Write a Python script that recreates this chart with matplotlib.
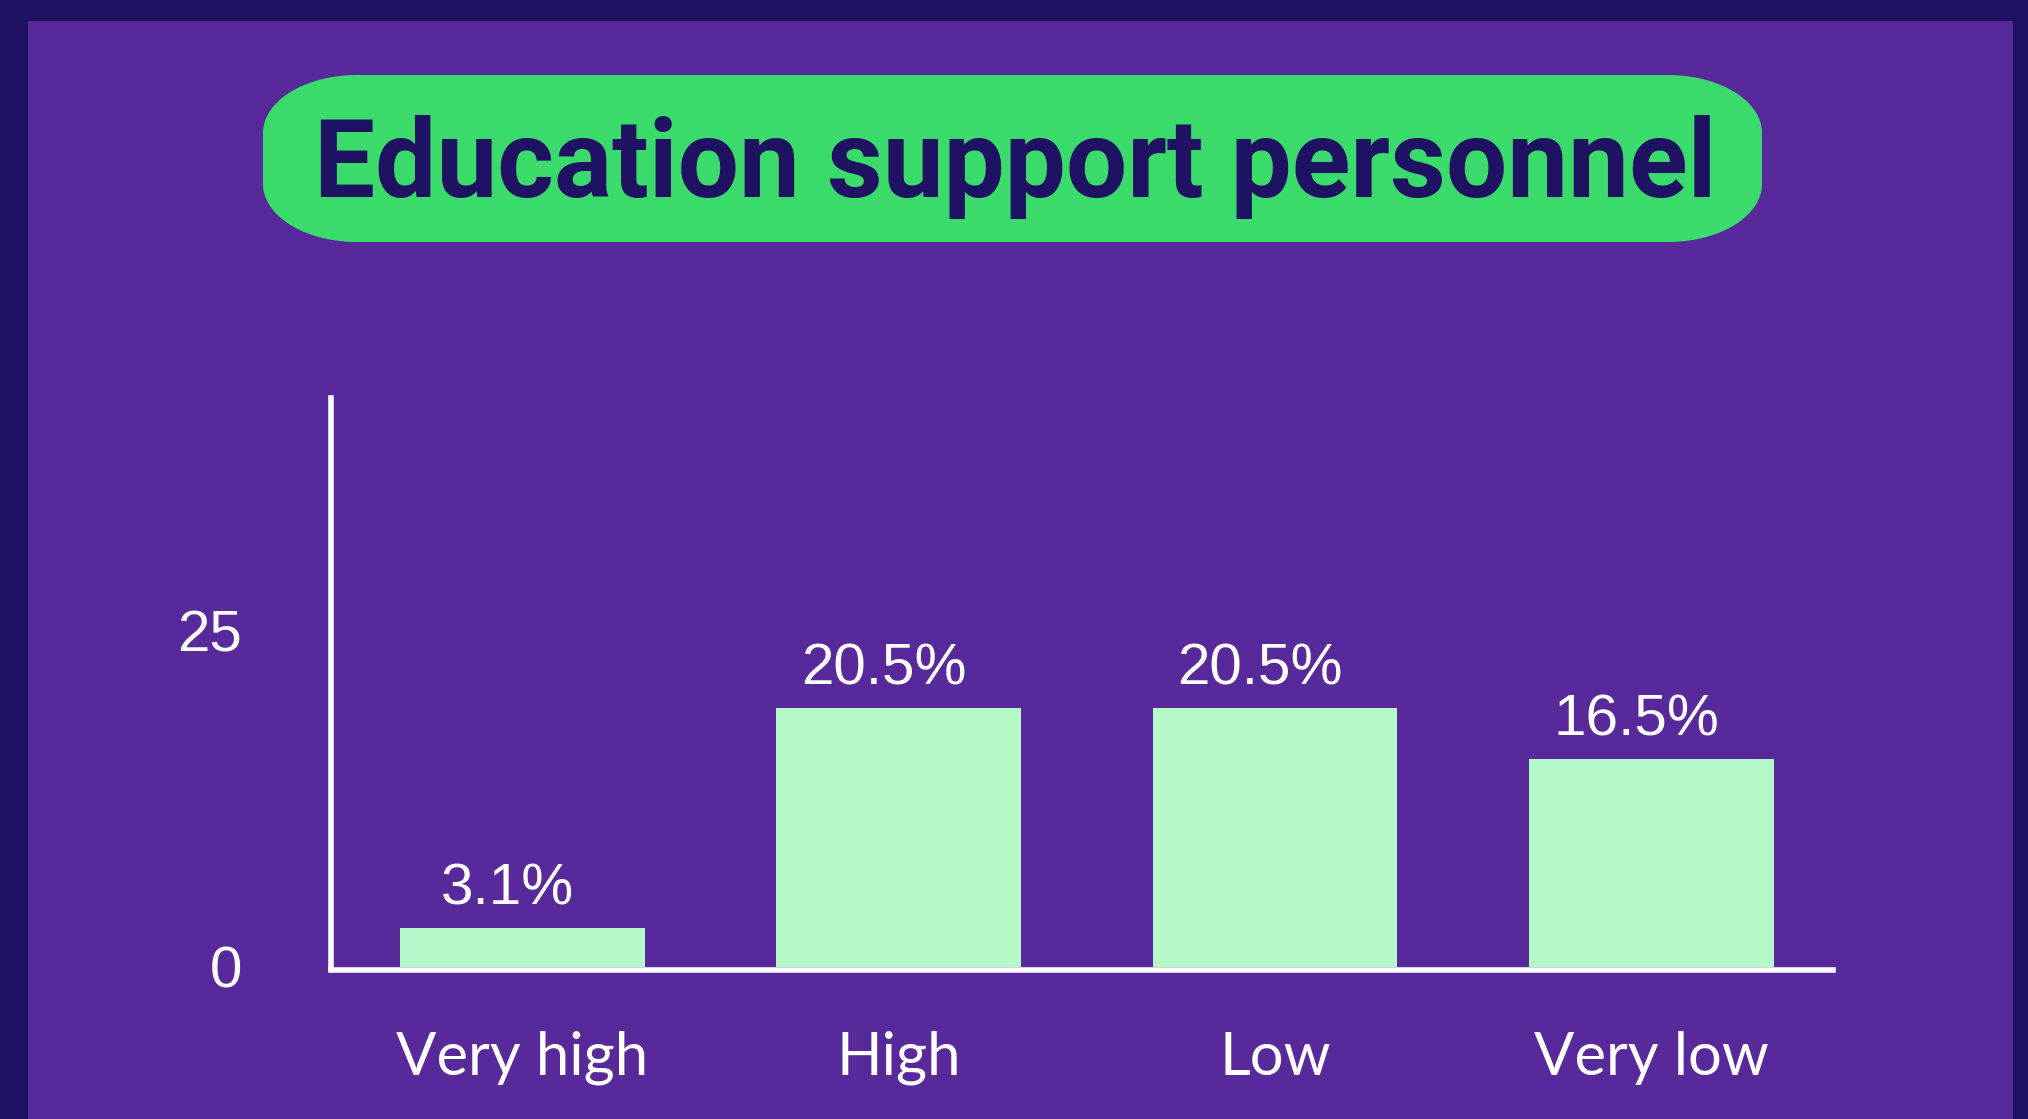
import numpy as np
import matplotlib
matplotlib.use("Agg")
import matplotlib.pyplot as plt
from matplotlib.patches import Rectangle, Polygon
from matplotlib import font_manager as fm
from matplotlib.transforms import ScaledTranslation

# ---- data ----
categories = ["Very high", "High", "Low", "Very low"]
values = [3.1, 20.5, 20.5, 16.5]
value_labels = ["3.1%", "20.5%", "20.5%", "16.5%"]
yticks = [0, 25]
ytick_labels = ["0", "25"]
title = "Education support personnel"

# ---- style ----
BORDER = "#1f1263"
PURPLE = "#57299b"
GREEN = "#3bdb6b"
BAR = "#b5f9c9"
NAVY = "#1f1263"
WHITE = "#ffffff"

W, H = 2028, 1119
DPI = 100
fig = plt.figure(figsize=(W / DPI, H / DPI), dpi=DPI, facecolor=BORDER)

names = {f.name for f in fm.fontManager.ttflist}
title_family = "Liberation Sans Narrow" if "Liberation Sans Narrow" in names else "Roboto"
cat_family = "Lato" if "Lato" in names else "DejaVu Sans"
num_family = "Liberation Sans"

# background / decoration axes in pixel coordinates
bg = fig.add_axes([0, 0, 1, 1], zorder=0)
bg.set_xlim(0, W)
bg.set_ylim(H, 0)
bg.axis("off")
bg.add_patch(Rectangle((28, 21), 2013 - 28, H - 21, facecolor=PURPLE, edgecolor="none"))

# pill with elliptical corners
x0, x1, y0, y1 = 263, 1762, 75, 242
rx, ry = 94, 58
pts = []
corners = [
    (x1 - rx, y0 + ry, -np.pi / 2, 0),
    (x1 - rx, y1 - ry, 0, np.pi / 2),
    (x0 + rx, y1 - ry, np.pi / 2, np.pi),
    (x0 + rx, y0 + ry, np.pi, 1.5 * np.pi),
]
for cx, cy, a0, a1 in corners:
    t = np.linspace(a0, a1, 40)
    pts.extend(zip(cx + rx * np.cos(t), cy + ry * np.sin(t)))
bg.add_patch(Polygon(pts, closed=True, facecolor=GREEN, edgecolor="none"))

ttl = bg.text(1015, 197, title, ha="center", va="baseline", color=NAVY,
              fontsize=77, fontweight="bold", family=title_family)
fig.canvas.draw()
r = fig.canvas.get_renderer()
w = ttl.get_window_extent(renderer=r).width
ttl.set_fontsize(77 * 1402 / w)

# ---- chart axes ----
left, right = 331, 1833
top, bottom = 398, 967
ax = fig.add_axes([left / W, (H - bottom) / H, (right - left) / W, (bottom - top) / H], zorder=1)
ax.patch.set_alpha(0)

x = np.arange(len(categories))
ax.bar(x, values, width=0.65, color=BAR, zorder=2)
ax.set_xlim(-0.509, len(categories) - 1 + 0.483)
ax.set_ylim(0, 45.1)

for spine in ["top", "right"]:
    ax.spines[spine].set_visible(False)
for spine in ["left", "bottom"]:
    ax.spines[spine].set_color(WHITE)
    ax.spines[spine].set_linewidth(4.0)
    ax.spines[spine].set_zorder(3)
ax.spines["bottom"].set_position(("outward", 1.8))

ax.set_yticks(yticks)
ax.set_yticklabels(ytick_labels, family=num_family, fontsize=42, color=WHITE)
ax.set_xticks(x)
ax.set_xticklabels(categories, family=cat_family, fontsize=43, color=WHITE)
ax.tick_params(axis="y", length=0, pad=64)
ax.tick_params(axis="x", length=0, pad=44)

# nudge the upper y tick label up slightly, as in the reference
for tick in ax.yaxis.get_major_ticks():
    lbl = tick.label1
    if lbl.get_text() == "25":
        lbl.set_transform(lbl.get_transform() + ScaledTranslation(0, 21 / DPI, fig.dpi_scale_trans))

for xi, v, lab in zip(x, values, value_labels):
    ax.annotate(lab, (xi, v), xytext=(-10.8, 17), textcoords="offset points",
                ha="center", va="baseline", color=WHITE, fontsize=42, family=num_family)

fig.savefig("out.png", dpi=DPI, facecolor=BORDER)
